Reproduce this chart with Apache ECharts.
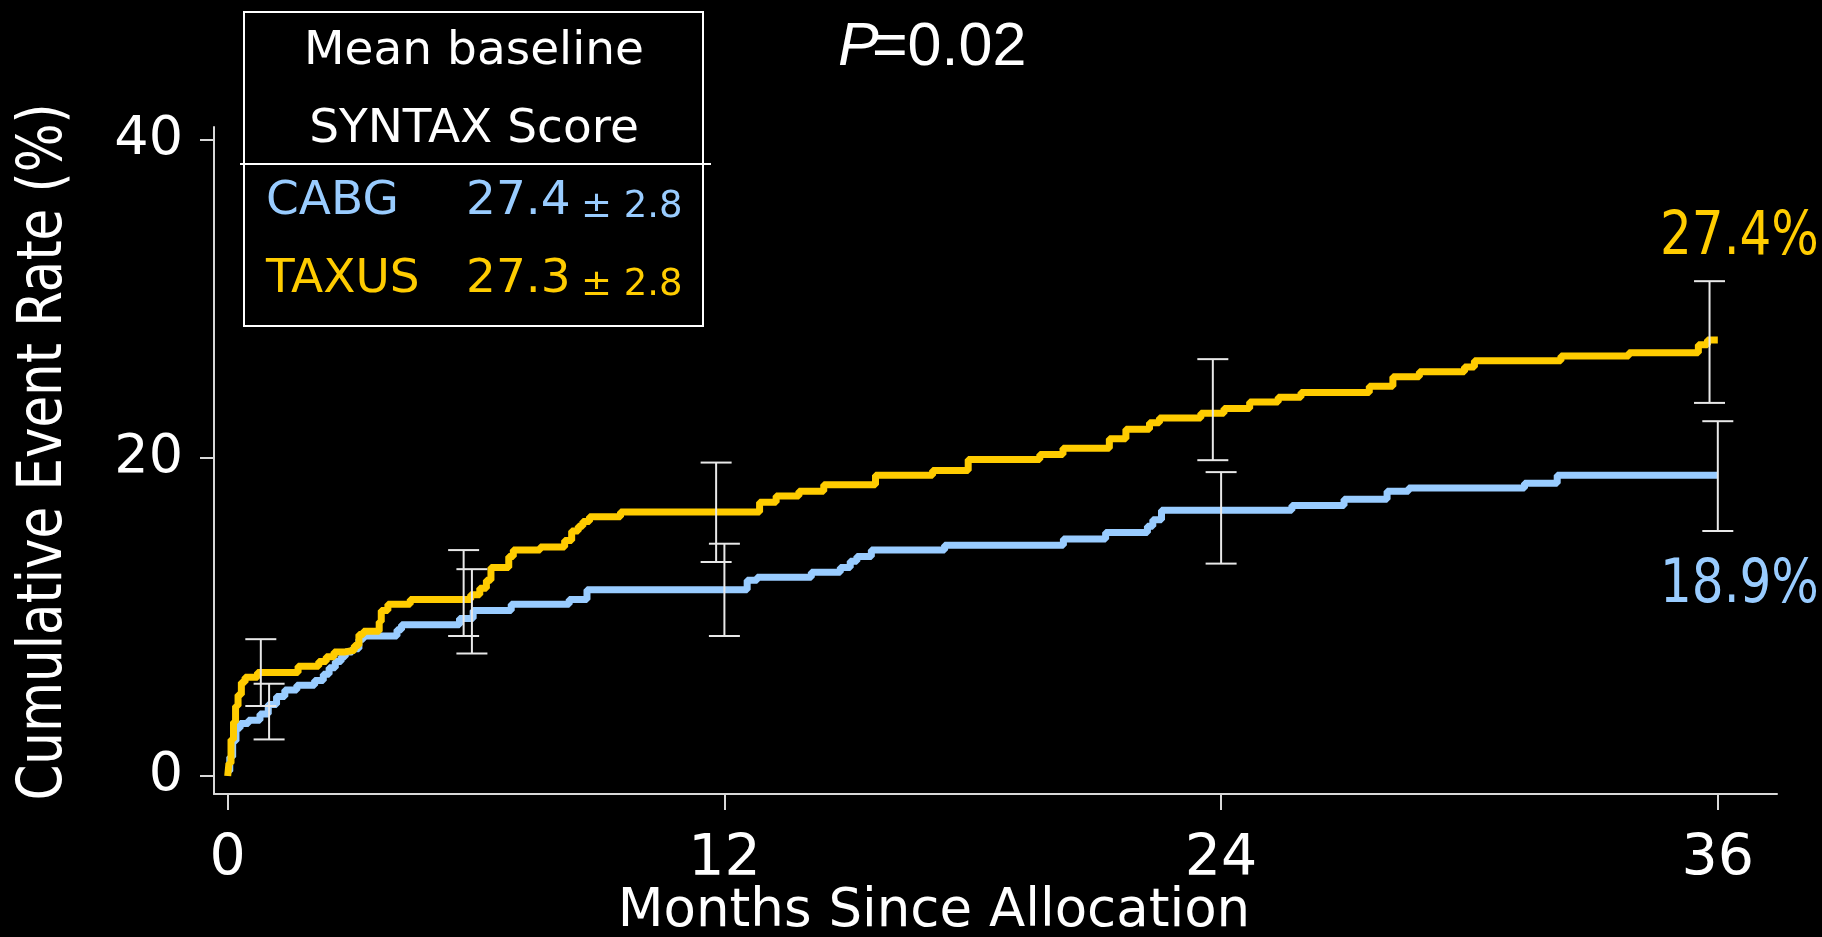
<!DOCTYPE html>
<html>
<head>
<meta charset="utf-8">
<script src="https://cdn.jsdelivr.net/npm/echarts@6/dist/echarts.min.js"></script>
<style>
  html, body { margin: 0; padding: 0; background: #000; }
  #chart { width: 1822px; height: 937px; }
</style>
</head>
<body>
<div id="chart"></div>
<script>
// ---- Data ----
const xTicks = [0, 12, 24, 36];
const yTicks = [0, 20, 40];

const taxusMonths = [0, 0.03, 0.08, 0.14, 0.19, 0.25, 0.33, 0.42, 0.72, 1.7, 2.2, 2.38, 2.57, 2.84, 3.06, 3.17, 3.28, 3.66, 3.71, 3.87, 4.41, 5.87, 6.09, 6.25, 6.36, 6.79, 6.9, 7.55, 8.14, 8.31, 8.47, 8.58, 8.74, 9.49, 12.85, 13.25, 13.8, 14.4, 15.65, 17.03, 17.89, 19.62, 20.18, 21.3, 21.7, 22.27, 22.51, 23.51, 24.07, 24.69, 25.38, 25.93, 27.58, 28.15, 28.79, 29.88, 30.12, 32.21, 33.85, 35.53, 35.75, 36];
const taxusRate = [0, 0.8, 2.3, 3.4, 4.4, 5.1, 5.9, 6.2, 6.5, 6.9, 7.2, 7.5, 7.8, 7.9, 8.2, 8.9, 9.1, 9.7, 10.4, 10.8, 11.1, 11.4, 11.8, 12.3, 13.1, 13.8, 14.2, 14.4, 14.8, 15.4, 15.7, 16.0, 16.3, 16.6, 17.2, 17.6, 17.9, 18.3, 18.9, 19.2, 19.9, 20.2, 20.6, 21.2, 21.8, 22.2, 22.5, 22.8, 23.1, 23.5, 23.8, 24.1, 24.5, 25.1, 25.4, 25.7, 26.1, 26.4, 26.6, 27.1, 27.4, 27.4];

const cabgMonths = [0, 0.05, 0.12, 0.2, 0.3, 0.5, 0.78, 0.98, 1.18, 1.38, 1.67, 2.1, 2.31, 2.45, 2.6, 2.74, 2.84, 3.01, 3.17, 3.28, 4.09, 4.2, 5.6, 5.93, 6.85, 8.25, 8.68, 12.55, 12.79, 14.1, 14.8, 15.04, 15.2, 15.55, 17.32, 20.19, 21.21, 22.22, 22.35, 22.56, 25.71, 26.97, 28.01, 28.53, 31.33, 32.12, 36];
const cabgRate = [0.3, 1.2, 2.2, 3.0, 3.3, 3.5, 3.9, 4.5, 5.0, 5.4, 5.7, 6.0, 6.4, 6.8, 7.2, 7.5, 7.8, 8.0, 8.6, 8.8, 9.2, 9.5, 9.9, 10.4, 10.8, 11.1, 11.7, 12.3, 12.5, 12.8, 13.1, 13.5, 13.8, 14.2, 14.5, 14.9, 15.3, 15.7, 16.1, 16.7, 17.0, 17.4, 17.9, 18.1, 18.4, 18.9, 18.9];

// Error bars (confidence intervals)
const taxusErrMonths = [0.8, 5.7, 11.8, 23.8, 35.8];
const taxusErrLow = [4.4, 8.8, 13.45, 19.85, 23.45];
const taxusErrHigh = [8.6, 14.2, 19.7, 26.2, 31.1];
const cabgErrMonths = [1.0, 5.9, 12.0, 24.0, 36.0];
const cabgErrLow = [2.3, 7.7, 8.8, 13.35, 15.4];
const cabgErrHigh = [5.8, 13.0, 14.6, 19.1, 22.3];

// Texts
const legendTitle = ['Mean baseline', 'SYNTAX Score'];
const groupNames = ['CABG', 'TAXUS'];
const groupScores = ['27.4', '27.3'];
const groupSD = ['± 2.8', '± 2.8'];
const pValueLabel = ['P', '=0.02'];
const endLabels = ['27.4%', '18.9%'];
const xAxisTitle = 'Months Since Allocation';
const yAxisTitle = 'Cumulative Event Rate (%)';

// ---- Style ----
const BLUE = '#99CCFF';
const YELLOW = '#FFCC00';
const WHITE = '#ffffff';
const AXIS = '#d9d9d9';
const F = '"DejaVu Sans", Verdana, sans-serif';
const FL = '"Liberation Sans", Arial, sans-serif';

const chart = echarts.init(document.getElementById('chart'), null, { renderer: 'canvas' });

function errorRenderer(params, api) {
  const x = api.value(0), lo = api.value(1), hi = api.value(2);
  const a = api.coord([x, lo]);
  const b = api.coord([x, hi]);
  const hw = 15.5;
  const st = { stroke: '#e8e8e8', lineWidth: 2 };
  return {
    type: 'group',
    children: [
      { type: 'line', shape: { x1: a[0], y1: a[1], x2: b[0], y2: b[1] }, style: st },
      { type: 'line', shape: { x1: a[0] - hw, y1: a[1], x2: a[0] + hw, y2: a[1] }, style: st },
      { type: 'line', shape: { x1: b[0] - hw, y1: b[1], x2: b[0] + hw, y2: b[1] }, style: st }
    ]
  };
}

function txt(text, x, y, size, color, align, family, extra) {
  return Object.assign({
    type: 'text', x: x, y: y, z: 100,
    style: Object.assign({
      text: text, fill: color, fontSize: size, fontFamily: family || F,
      textAlign: align || 'left', textVerticalAlign: 'middle'
    }, (extra && extra.style) || {})
  }, (extra && extra.el) || {});
}

const option = {
  backgroundColor: '#000',
  animation: false,
  grid: { left: 214, right: 45, top: 127, bottom: 143, containLabel: false },
  xAxis: {
    type: 'value', min: -0.331, max: 37.43,
    axisLine: { show: true, onZero: false, lineStyle: { color: AXIS, width: 2 } },
    axisTick: { show: true, inside: false, length: 16, customValues: xTicks, lineStyle: { color: AXIS, width: 2 } },
    axisLabel: { customValues: xTicks, color: WHITE, fontSize: 57, fontFamily: F, margin: 38 },
    splitLine: { show: false }
  },
  yAxis: {
    type: 'value', min: -1.13, max: 40.79,
    axisLine: { show: true, onZero: false, lineStyle: { color: AXIS, width: 2 } },
    axisTick: { show: true, inside: false, length: 14, customValues: yTicks, lineStyle: { color: AXIS, width: 2 } },
    axisLabel: { customValues: yTicks, color: WHITE, fontSize: 54, fontFamily: F, margin: 31 },
    splitLine: { show: false }
  },
  series: [
    {
      name: 'CABG', type: 'line', step: 'end', showSymbol: false, z: 3,
      lineStyle: { color: BLUE, width: 7 },
      data: cabgMonths.map((m, i) => [m, cabgRate[i]])
    },
    {
      name: 'TAXUS', type: 'line', step: 'end', showSymbol: false, z: 4,
      lineStyle: { color: YELLOW, width: 7 },
      data: taxusMonths.map((m, i) => [m, taxusRate[i]])
    },
    {
      name: 'TAXUS CI', type: 'custom', z: 10, renderItem: errorRenderer,
      encode: { x: 0, y: [1, 2] },
      data: taxusErrMonths.map((m, i) => [m, taxusErrLow[i], taxusErrHigh[i]])
    },
    {
      name: 'CABG CI', type: 'custom', z: 10, renderItem: errorRenderer,
      encode: { x: 0, y: [1, 2] },
      data: cabgErrMonths.map((m, i) => [m, cabgErrLow[i], cabgErrHigh[i]])
    }
  ],
  graphic: {
    elements: [
      // legend box
      { type: 'rect', shape: { x: 244, y: 12, width: 459, height: 314 }, z: 90,
        style: { fill: 'rgba(0,0,0,0)', stroke: WHITE, lineWidth: 2 } },
      { type: 'line', shape: { x1: 240, y1: 164, x2: 711, y2: 164 }, z: 90,
        style: { stroke: WHITE, lineWidth: 2 } },
      txt(legendTitle[0], 474, 52, 47, WHITE, 'center'),
      txt(legendTitle[1], 474, 130, 47, WHITE, 'center'),
      txt(groupNames[0], 266, 202, 47, BLUE, 'left'),
      txt(groupScores[0], 466, 202, 47, BLUE, 'left'),
      txt(groupSD[0], 581, 207, 37, BLUE, 'left'),
      txt(groupNames[1], 266, 280, 47, YELLOW, 'left'),
      txt(groupScores[1], 466, 280, 47, YELLOW, 'left'),
      txt(groupSD[1], 581, 285, 37, YELLOW, 'left'),
      // P value
      txt(pValueLabel[0], 838, 48, 61, WHITE, 'left', FL, { style: { fontStyle: 'italic' } }),
      txt(pValueLabel[1], 872, 48, 61, WHITE, 'left', FL),
      // end labels (condensed horizontally)
      txt(endLabels[0], 1660, 238, 61, YELLOW, 'left', F, { el: { scaleX: 0.82 } }),
      txt(endLabels[1], 1660, 586, 61, BLUE, 'left', F, { el: { scaleX: 0.82 } }),
      // axis titles
      txt(xAxisTitle, 934, 912, 53, WHITE, 'center'),
      txt(yAxisTitle, 45, 452, 62, WHITE, 'center', F, { el: { rotation: Math.PI / 2, scaleX: 0.83 } })
    ]
  }
};

chart.setOption(option);
</script>
</body>
</html>
